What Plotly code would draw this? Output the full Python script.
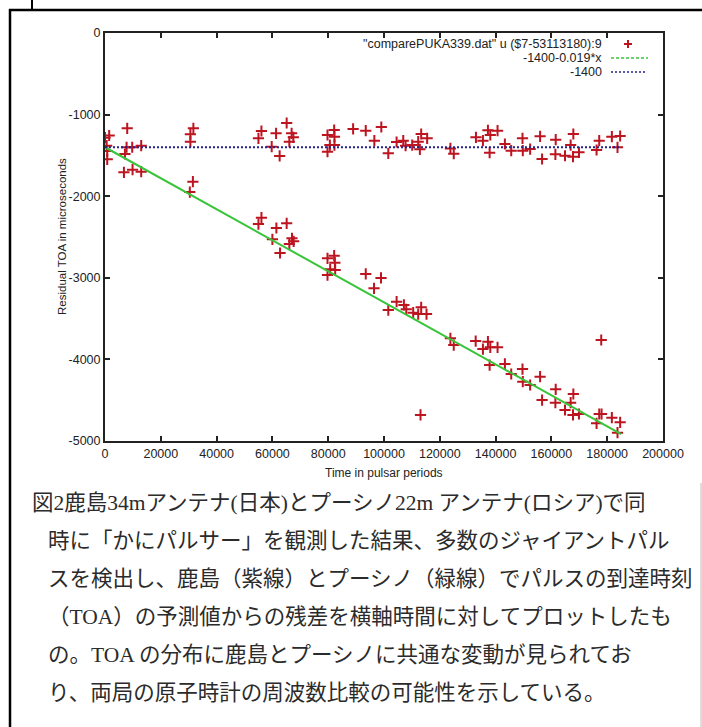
import plotly.graph_objects as go

# ---------------- data ----------------
upper_x = [1500, 0, 600, 800, 7964, 7143, 7740, 9750, 12976, 31678, 30607, 30607,
           55000, 56070, 61320, 59750, 62600, 65110, 66890, 67500, 66070,
           79750, 82140, 82250, 80600, 82250, 79750, 88930, 93460, 96540, 99040,
           101540, 104520, 106900, 107740, 110100, 112260, 113330, 115470, 112860,
           123800, 125000, 132960, 135460, 137250, 138100, 140700, 137860, 143330,
           145600, 149640, 149750, 152380, 155950, 156660, 161540, 161430, 164880,
           167860, 166900, 167740, 169880, 176190, 177140, 181670, 184640, 183690]
upper_y = [-1256, -1283, -1381, -1446, -1168, -1483, -1400, -1400, -1381, -1168, -1241, -1332,
           -1291, -1201, -1230, -1393, -1507, -1103, -1230, -1278, -1332,
           -1250, -1189, -1271, -1373, -1373, -1455, -1176, -1197, -1320, -1152,
           -1475, -1336, -1320, -1381, -1373, -1332, -1238, -1291, -1426,
           -1414, -1479, -1278, -1320, -1193, -1250, -1197, -1467, -1360,
           -1442, -1291, -1442, -1422, -1266, -1544, -1307, -1487, -1504,
           -1238, -1373, -1516, -1462, -1434, -1320, -1271, -1262, -1401]

lower_x = [800, 6786, 9880, 12976, 31500, 30400, 56070, 55000, 61430, 65110, 60000,
           62740, 67020, 67620, 66070, 79750, 82140, 82390, 80710, 82500, 79750,
           93460, 98930, 96430, 101540, 104520, 107140, 107980, 110460, 112260,
           113330, 115240, 113090, 123800, 125000, 132860, 135460, 137250, 138100,
           140700, 137860, 143330, 145600, 149640, 149750, 152380, 155950, 156660,
           161540, 161430, 164880, 167860, 166900, 167740, 169880, 176190, 177140,
           177980, 177860, 181670, 184640, 183690]
lower_y = [-1548, -1707, -1675, -1700, -1822, -1949, -2263, -2341, -2390, -2332, -2528,
           -2696, -2516, -2553, -2586, -2761, -2729, -2815, -2896, -2904, -2966,
           -2953, -3002, -3129, -3395, -3293, -3333, -3386, -3428, -3444,
           -3362, -3444, -4681, -3742, -3824, -3775, -3873, -3783, -3852,
           -3852, -4069, -4056, -4179, -4118, -4273, -4314, -4212, -4498,
           -4367, -4530, -4620, -4424, -4530, -4681, -4669, -4783, -4669,
           -4669, -3762, -4714, -4771, -4898]

fit_x = [0, 185000]
fit_y = [-1400, -4915]
ref_x = [0, 185000]
ref_y = [-1400, -1400]

x_ticks = [0, 20000, 40000, 60000, 80000, 100000, 120000, 140000, 160000, 180000, 200000]
x_tick_labels = ["0", "20000", "40000", "60000", "80000", "100000", "120000",
                 "140000", "160000", "180000", "200000"]
y_ticks = [0, -1000, -2000, -3000, -4000, -5000]
y_tick_labels = ["0", "-1000", "-2000", "-3000", "-4000", "-5000"]

legend_labels = ['"comparePUKA339.dat" u ($7-53113180):9', '-1400-0.019*x', '-1400']
x_title = "Time in pulsar periods"
y_title = "Residual TOA in microseconds"
caption_lines = [
    "図2鹿島34mアンテナ(日本)とプーシノ22m アンテナ(ロシア)で同",
    "時に「かにパルサー」を観測した結果、多数のジャイアントパル",
    "スを検出し、鹿島（紫線）とプーシノ（緑線）でパルスの到達時刻",
    "（TOA）の予測値からの残差を横軸時間に対してプロットしたも",
    "の。TOA の分布に鹿島とプーシノに共通な変動が見られてお",
    "り、両局の原子時計の周波数比較の可能性を示している。",
]

# ---------------- layout helpers (pixels -> paper) ----------------
W, H = 702, 727
L, R, T, B = 105, 663, 33, 441


def px(xp):
    return (xp - L) / (R - L)


def py(yp):
    return (B - yp) / (B - T)


RED = "#bd1520"
GREEN = "#38c438"
NAVY = "#22228a"
TXT = "#222222"
SANS = "Liberation Sans, Arial, sans-serif"

fig = go.Figure()
fig.add_trace(go.Scatter(
    x=upper_x + lower_x, y=upper_y + lower_y, mode="markers",
    name=legend_labels[0],
    marker=dict(symbol="cross-thin", size=8, color=RED, line=dict(color=RED, width=2)),
))
fig.add_trace(go.Scatter(
    x=fit_x, y=fit_y, mode="lines", name=legend_labels[1],
    line=dict(color=GREEN, width=2),
))
fig.add_trace(go.Scatter(
    x=ref_x, y=ref_y, mode="lines", name=legend_labels[2],
    line=dict(color=NAVY, width=2, dash="2px,2px"),
))

axis_common = dict(
    showgrid=False, zeroline=False, showline=True, linecolor="#222", linewidth=2,
    mirror="ticks", ticks="inside", ticklen=5, tickwidth=1.5, tickcolor="#222",
    tickfont=dict(family=SANS, size=12.5, color=TXT),
)
fig.update_xaxes(range=[0, 200000], tickvals=x_ticks, ticktext=x_tick_labels, **axis_common)
fig.update_yaxes(range=[-5000, 0], tickvals=y_ticks, ticktext=y_tick_labels, **axis_common)

annotations = []
# axis titles
annotations.append(dict(xref="paper", yref="paper", x=0.5, y=py(473), text=x_title,
                        showarrow=False, xanchor="center", yanchor="middle",
                        font=dict(family=SANS, size=12, color=TXT)))
annotations.append(dict(xref="paper", yref="paper", x=px(62), y=0.5, text=y_title,
                        showarrow=False, xanchor="center", yanchor="middle", textangle=-90,
                        font=dict(family=SANS, size=11.5, color=TXT)))
# key (gnuplot style: text right-aligned, sample on the right)
key_rows = [44, 58, 72]
for lbl, yy in zip(legend_labels, key_rows):
    annotations.append(dict(xref="paper", yref="paper", x=px(604), y=py(yy), text=lbl,
                            showarrow=False, xanchor="right", yanchor="middle",
                            font=dict(family=SANS, size=12.5, color=TXT)))
# caption
cap_x = [30, 46, 46, 46, 46, 46]
cap_y = [503, 541, 579, 617, 655, 693]
for t, xx, yy in zip(caption_lines, cap_x, cap_y):
    annotations.append(dict(xref="paper", yref="paper", x=px(xx), y=py(yy), text=t,
                            showarrow=False, xanchor="left", yanchor="middle",
                            font=dict(family="Liberation Serif, Noto Sans CJK JP", size=21.5,
                                      color="#2b2b2b")))

shapes = []
# key samples
shapes.append(dict(type="line", xref="paper", yref="paper", x0=px(624), x1=px(632),
                   y0=py(44), y1=py(44), line=dict(color=RED, width=2)))
shapes.append(dict(type="line", xref="paper", yref="paper", x0=px(628), x1=px(628),
                   y0=py(40), y1=py(48), line=dict(color=RED, width=2)))
shapes.append(dict(type="line", xref="paper", yref="paper", x0=px(611), x1=px(648),
                   y0=py(58), y1=py(58), line=dict(color=GREEN, width=1.5, dash="3px,2px")))
shapes.append(dict(type="line", xref="paper", yref="paper", x0=px(611), x1=px(647),
                   y0=py(72), y1=py(72), line=dict(color=NAVY, width=1.5, dash="2px,2px")))
# page frame lines
shapes.append(dict(type="line", xref="paper", yref="paper", x0=px(10), x1=px(10),
                   y0=py(9), y1=py(740), line=dict(color="#000", width=2.5)))
shapes.append(dict(type="line", xref="paper", yref="paper", x0=px(9), x1=px(705),
                   y0=py(10), y1=py(10), line=dict(color="#000", width=2.5)))
shapes.append(dict(type="line", xref="paper", yref="paper", x0=px(32), x1=px(32),
                   y0=py(-5), y1=py(10), line=dict(color="#000", width=2)))
shapes.append(dict(type="line", xref="paper", yref="paper", x0=px(701), x1=px(701),
                   y0=py(483), y1=py(740), line=dict(color="#bbb", width=1)))

fig.update_layout(
    width=W, height=H, autosize=False,
    margin=dict(l=L, r=W - R, t=T, b=H - B, pad=0),
    paper_bgcolor="white", plot_bgcolor="white",
    showlegend=False,
    annotations=annotations, shapes=shapes,
)

fig.write_html("out.html", config={"displayModeBar": False},
               post_script="document.body.style.margin='0px';document.body.style.padding='0px';")
